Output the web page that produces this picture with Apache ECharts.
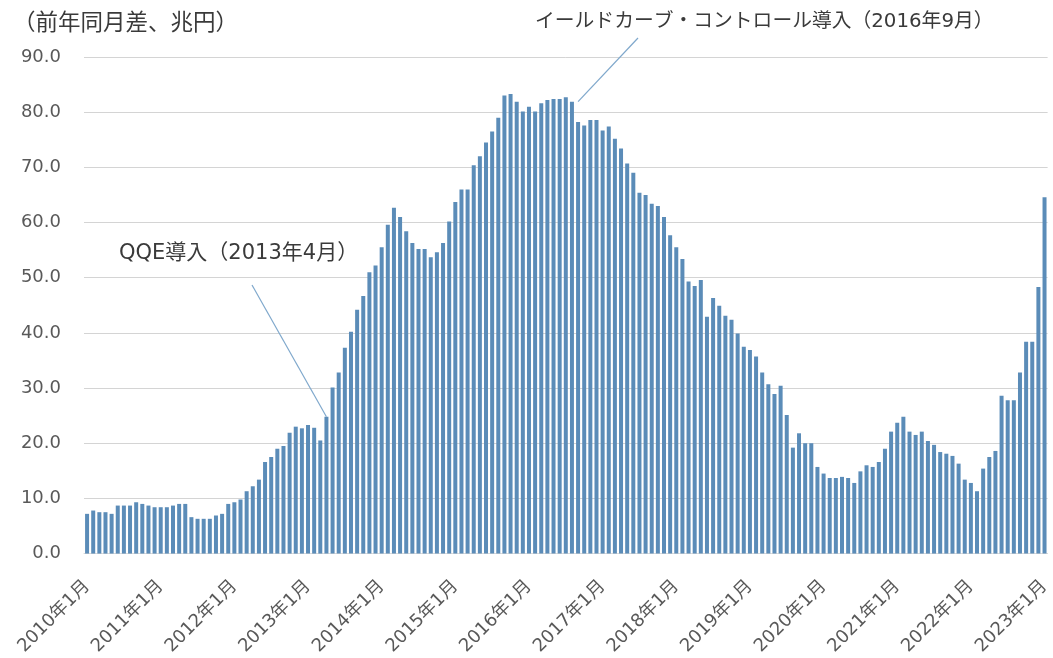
<!DOCTYPE html>
<html><head><meta charset="utf-8">
<script src="https://cdn.jsdelivr.net/npm/echarts@6/dist/echarts.min.js"></script>
<style>html,body{margin:0;padding:0;background:#fff}#c{width:1053px;height:658px}</style>
</head><body><div id="c"></div>
<script>
const startYear = 2010;
const monthCount = 157;
const categories = [];
for (let k = 0; k < monthCount; k++) {
  categories.push((startYear + Math.floor(k / 12)) + '年' + (k % 12 + 1) + '月');
}
const values2010 = [7.2, 7.8, 7.5, 7.5, 7.2, 8.7, 8.7, 8.7, 9.3, 9.0, 8.7, 8.4];
const values2011 = [8.4, 8.4, 8.7, 9.0, 9.0, 6.6, 6.3, 6.3, 6.3, 6.9, 7.2, 9.0];
const values2012 = [9.3, 9.8, 11.3, 12.2, 13.4, 16.6, 17.5, 19.0, 19.5, 21.9, 23.0, 22.7];
const values2013 = [23.3, 22.8, 20.5, 24.8, 30.1, 32.8, 37.3, 40.2, 44.2, 46.7, 51.0, 52.2];
const values2014 = [55.5, 59.6, 62.7, 61.0, 58.4, 56.3, 55.2, 55.2, 53.7, 54.6, 56.3, 60.2];
const values2015 = [63.7, 66.0, 66.0, 70.4, 72.0, 74.5, 76.5, 79.0, 83.0, 83.3, 81.9, 80.1];
const values2016 = [81.0, 80.1, 81.6, 82.2, 82.4, 82.4, 82.7, 81.9, 78.2, 77.6, 78.6, 78.6];
const values2017 = [76.7, 77.4, 75.2, 73.4, 70.7, 69.0, 65.4, 65.0, 63.4, 63.0, 61.0, 57.7];
const values2018 = [55.5, 53.4, 49.3, 48.5, 49.6, 42.9, 46.3, 44.9, 43.1, 42.4, 39.9, 37.5];
const values2019 = [36.9, 35.7, 32.8, 30.7, 28.9, 30.4, 25.1, 19.2, 21.8, 20.0, 20.0, 15.7];
const values2020 = [14.5, 13.7, 13.7, 13.9, 13.7, 12.8, 14.9, 16.0, 15.7, 16.6, 19.0, 22.1];
const values2021 = [23.7, 24.8, 22.1, 21.5, 22.1, 20.4, 19.7, 18.4, 18.1, 17.7, 16.3, 13.4];
const values2022 = [12.8, 11.3, 15.4, 17.5, 18.6, 28.6, 27.8, 27.8, 32.8, 38.4, 38.4, 48.3];
const values2023 = [64.6];
const values = [].concat(values2010, values2011, values2012, values2013, values2014, values2015,
  values2016, values2017, values2018, values2019, values2020, values2021, values2022, values2023);

const yTicks = { min: 0, max: 90, interval: 10 };
const unitLabel = '（前年同月差、兆円）';
const qqeLabel = 'QQE導入（2013年4月）';
const yccLabel = 'イールドカーブ・コントロール導入（2016年9月）';
const qqeMonth = '2013年4月';
const yccMonth = '2016年9月';

const FONT = '"DejaVu Sans", "Noto Sans CJK JP", sans-serif';
const chart = echarts.init(document.getElementById('c'), null, { renderer: 'canvas' });
const qi = categories.indexOf(qqeMonth);
const yi = categories.indexOf(yccMonth);
chart.setOption({
  animation: false,
  backgroundColor: '#ffffff',
  textStyle: { fontFamily: FONT },
  grid: { left: 84, right: 0, top: 57, bottom: 102, containLabel: false },
  xAxis: {
    type: 'category',
    data: categories,
    boundaryGap: true,
    axisTick: { show: false },
    axisLine: { show: true, lineStyle: { color: '#d9d9d9', width: 1 } },
    axisLabel: {
      interval: 11, rotate: 45, color: '#595959', fontSize: 18, margin: 30, fontFamily: FONT
    }
  },
  yAxis: {
    type: 'value',
    min: yTicks.min, max: yTicks.max, interval: yTicks.interval,
    axisLine: { show: false }, axisTick: { show: false },
    splitLine: { lineStyle: { color: '#d4d4d4', width: 1 } },
    axisLabel: { color: '#595959', fontSize: 18, margin: 23, fontFamily: FONT,
      formatter: v => v.toFixed(1) }
  },
  series: [{
    type: 'bar',
    data: values,
    barWidth: 4,
    itemStyle: { color: '#5b8cb8' },
    markLine: {
      silent: true,
      symbol: ['none', 'none'],
      label: { show: false },
      lineStyle: { color: '#7fa8cc', width: 1.2, type: 'solid' },
      data: [
        [{ coord: [qi, values[qi]] }, { x: 252, y: 285 }],
        [{ coord: [yi, values[yi - 1]] }, { x: 638, y: 38 }]
      ]
    }
  }],
  graphic: [
    { type: 'text', left: 13, top: 10, style: { text: unitLabel, fill: '#3a3a3a', font: '22.5px "Noto Sans CJK JP", sans-serif' } },
    { type: 'text', left: 119, top: 243, style: { text: qqeLabel, fill: '#3a3a3a', font: '21px ' + FONT } },
    { type: 'text', left: 535, top: 12, style: { text: yccLabel, fill: '#3a3a3a', font: '19.8px ' + FONT } }
  ]
});
</script>
</body></html>
